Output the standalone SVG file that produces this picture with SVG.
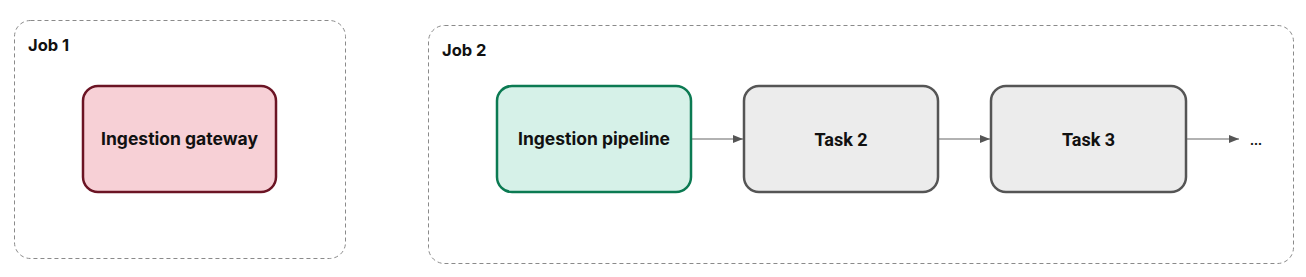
<svg xmlns="http://www.w3.org/2000/svg" width="1306" height="277" viewBox="0 0 1306 277">
<style>
.job{fill:none;stroke:#8a8a8a;stroke-width:1;stroke-dasharray:4 3}
.jl{font-family:Inter,"Noto Sans",sans-serif;font-weight:700;font-size:16.5px;fill:#111}
.nl{font-family:Inter,"Noto Sans",sans-serif;font-weight:700;font-size:17.5px;fill:#111;text-anchor:middle}
.tl{font-family:Roboto,"Liberation Sans",sans-serif;font-weight:700;font-size:18px;fill:#111;text-anchor:middle}
.task{fill:#ececec;stroke:#555;stroke-width:2.5}
.edge{stroke:#666;stroke-width:1.2;fill:none}
</style>
<defs>
<marker id="ah" viewBox="0 0 10 10" refX="10" refY="5" markerWidth="10" markerHeight="10" markerUnits="userSpaceOnUse" orient="auto">
<path d="M0,1 L10,5 L0,9 z" fill="#555"/>
</marker>
</defs>
<g id="job1">
<rect class="job" x="14.5" y="20.5" width="331" height="238" rx="16"/>
<text class="jl" x="28" y="51">Job 1</text>
</g>
<g id="job2">
<rect class="job" x="428.5" y="25.5" width="865" height="238" rx="16"/>
<text class="jl" x="442" y="56">Job 2</text>
</g>
<g id="gateway">
<rect x="83" y="86" width="193" height="106" rx="15" fill="#f7d0d6" stroke="#6b1424" stroke-width="2.5"/>
<text class="nl" x="179.5" y="145">Ingestion gateway</text>
</g>
<g id="pipeline">
<rect x="497" y="86" width="194" height="106" rx="15" fill="#d6f1e8" stroke="#0b7a52" stroke-width="2.5"/>
<text class="nl" x="594" y="145">Ingestion pipeline</text>
</g>
<g id="task2">
<rect class="task" x="744" y="86" width="194" height="106" rx="15"/>
<text class="tl" x="841" y="146">Task 2</text>
</g>
<g id="task3">
<rect class="task" x="991" y="86" width="195" height="106" rx="15"/>
<text class="tl" x="1088.5" y="146">Task 3</text>
</g>
<g id="more">
<text class="tl" x="1256" y="145" style="font-size:14px">...</text>
</g>
<g id="connectors">
<line class="edge" x1="692" y1="139" x2="743" y2="139" marker-end="url(#ah)"/>
<line class="edge" x1="939" y1="139" x2="990" y2="139" marker-end="url(#ah)"/>
<line class="edge" x1="1187" y1="139" x2="1239" y2="139" marker-end="url(#ah)"/>
</g>
</svg>
